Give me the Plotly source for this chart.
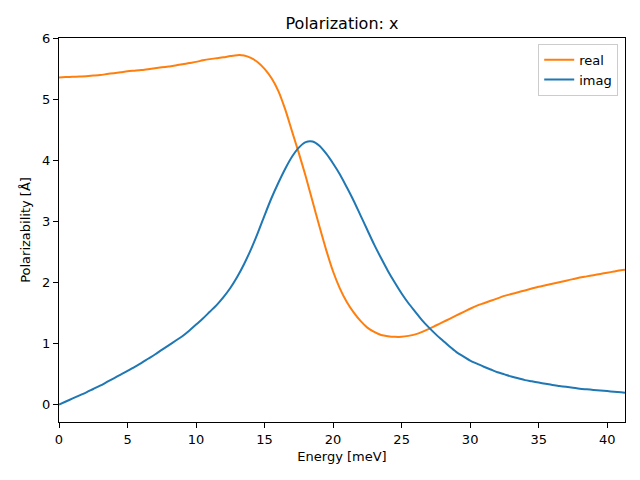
import plotly.graph_objects as go

energy = [0, 0.5, 1, 1.5, 2, 2.5, 3, 3.5, 4, 4.5,
          5, 5.5, 6, 6.5, 7, 7.5, 8, 8.5, 9, 9.5,
          10, 10.5, 11, 11.5, 12, 12.5, 13, 13.5, 14, 14.5,
          15, 15.5, 16, 16.5, 17, 17.5, 18, 18.5, 19, 19.5,
          20, 20.5, 21, 21.5, 22, 22.5, 23, 23.5, 24, 24.5,
          25, 25.5, 26, 26.5, 27, 27.5, 28, 28.5, 29, 29.5,
          30, 30.5, 31, 31.5, 32, 32.5, 33, 33.5, 34, 34.5,
          35, 35.5, 36, 36.5, 37, 37.5, 38, 38.5, 39, 39.5,
          40, 40.5, 41, 41.3]
real = [5.36, 5.365, 5.37, 5.375, 5.38, 5.39, 5.40, 5.415, 5.43, 5.445,
        5.46, 5.47, 5.48, 5.495, 5.51, 5.525, 5.54, 5.555, 5.575, 5.595,
        5.615, 5.64, 5.66, 5.675, 5.69, 5.71, 5.725, 5.72, 5.68, 5.61,
        5.50, 5.35, 5.14, 4.84, 4.48, 4.12, 3.74, 3.33, 2.92, 2.53,
        2.18, 1.90, 1.68, 1.51, 1.37, 1.26, 1.19, 1.14, 1.12, 1.11,
        1.11, 1.125, 1.15, 1.19, 1.24, 1.295, 1.35, 1.405, 1.46, 1.515,
        1.57, 1.62, 1.66, 1.70, 1.74, 1.78, 1.81, 1.84, 1.87, 1.90,
        1.93, 1.955, 1.98, 2.005, 2.03, 2.055, 2.08, 2.10, 2.12, 2.14,
        2.16, 2.18, 2.20, 2.21]
imag = [0.00, 0.05, 0.10, 0.15, 0.20, 0.255, 0.31, 0.37, 0.43, 0.49,
        0.55, 0.615, 0.68, 0.75, 0.82, 0.895, 0.97, 1.045, 1.12, 1.21,
        1.31, 1.41, 1.52, 1.63, 1.76, 1.91, 2.09, 2.30, 2.54, 2.81,
        3.10, 3.38, 3.63, 3.86, 4.06, 4.21, 4.30, 4.31, 4.24, 4.11,
        3.95, 3.77, 3.56, 3.34, 3.10, 2.86, 2.62, 2.40, 2.19, 2.00,
        1.82, 1.66, 1.52, 1.38, 1.26, 1.15, 1.05, 0.95, 0.86, 0.79,
        0.72, 0.67, 0.62, 0.575, 0.53, 0.495, 0.46, 0.43, 0.40, 0.38,
        0.36, 0.34, 0.32, 0.305, 0.29, 0.275, 0.26, 0.25, 0.24, 0.23,
        0.22, 0.21, 0.20, 0.195]

series_names = ["real", "imag"]
colors = ["#ff7f0e", "#1f77b4"]

fig = go.Figure()
for name, vals, col in zip(series_names, [real, imag], colors):
    fig.add_trace(go.Scatter(x=energy, y=vals, mode="lines", name=name,
                             line=dict(color=col, width=2, shape="spline", smoothing=0.8)))

font = "DejaVu Sans"
axis_common = dict(showgrid=False, zeroline=False, showline=True, linecolor="black",
                   linewidth=1, mirror=True, ticks="outside", ticklen=5, tickwidth=1,
                   tickcolor="black", automargin=False,
                   tickfont=dict(family=font, size=13, color="black"))

# page body has an 8px margin, so the figure is sized/positioned to compensate
W, H = 632, 472
fig.update_layout(
    width=W, height=H,
    margin=dict(l=51, r=15, t=30, b=58, autoexpand=False),
    paper_bgcolor="white", plot_bgcolor="white",
    font=dict(family=font, color="black"),
    title=dict(text="Polarization: x", x=0.5, xref="paper", xanchor="center",
               y=1 - 15 / H, yref="container", yanchor="middle",
               font=dict(family=font, size=16, color="black")),
    xaxis=dict(range=[0, 41.3], tickvals=[0, 5, 10, 15, 20, 25, 30, 35, 40],
               title=dict(text="Energy [meV]", font=dict(family=font, size=13), standoff=6),
               **axis_common),
    yaxis=dict(range=[-0.286, 6.006], tickvals=[0, 1, 2, 3, 4, 5, 6],
               title=dict(text="Polarizability [Å]", font=dict(family=font, size=13), standoff=8),
               **axis_common),
    legend=dict(x=0.988, y=0.985, xanchor="right", yanchor="top",
                bgcolor="rgba(255,255,255,0.8)", bordercolor="#cccccc", borderwidth=1,
                font=dict(family=font, size=13, color="black"), tracegroupgap=0,
                itemwidth=30),
    showlegend=True,
)

fig.write_html("out.html")
